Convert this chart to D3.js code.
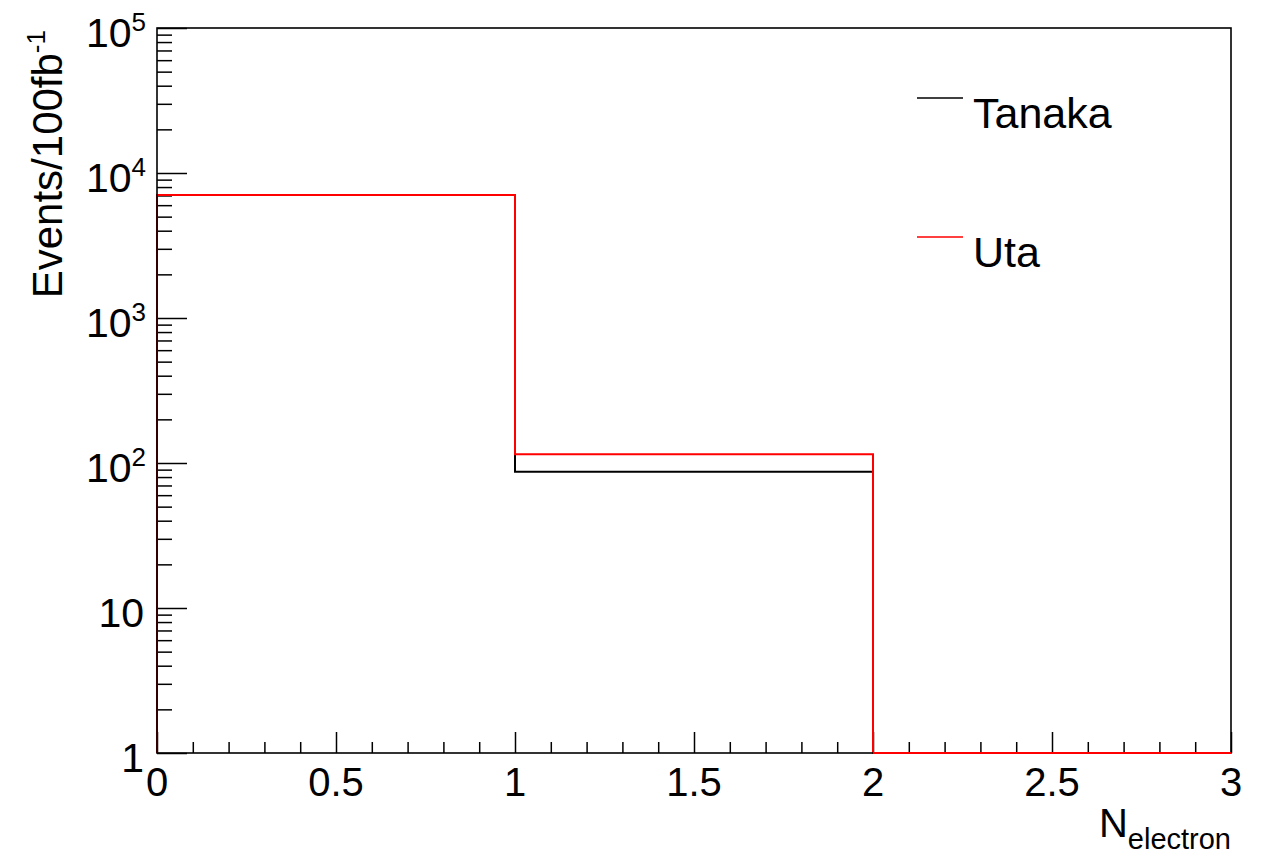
<!DOCTYPE html>
<html lang="en">
<head>
    <meta charset="UTF-8">
    <title>N electron</title>
    <script src="https://d3js.org/d3.v7.min.js"></script>
    <style>
        body { margin: 0; background: #fff; }
        svg { display: block; font-family: "Liberation Sans", Arial, sans-serif; }
    </style>
</head>
<body>
<div id="chart"></div>
<script>
    // bins: [0,1), [1,2), [2,3)
    const binEdges = [0, 1, 2, 3];
    const tanaka = [7050, 87, 0];
    const uta = [7050, 115, 0];
    const seriesNames = ["Tanaka", "Uta"];
    const seriesColors = ["#000000", "#ff0000"];
    const xMajor = [0, 0.5, 1, 1.5, 2, 2.5, 3];
    const xMajorLabels = ["0", "0.5", "1", "1.5", "2", "2.5", "3"];
    const yDecades = [1, 10, 100, 1000, 10000, 100000];

    const W = 1271, H = 858;
    const margin = { top: 28, right: 40, bottom: 105, left: 157 };
    const width = W - margin.left - margin.right;
    const height = H - margin.top - margin.bottom;

    const svg = d3.select("#chart").append("svg")
        .attr("width", W)
        .attr("height", H);

    const g = svg.append("g")
        .attr("transform", `translate(${margin.left},${margin.top})`);

    const x = d3.scaleLinear().domain([0, 3]).range([0, width]);
    const y = d3.scaleLog().domain([1, 1e5]).range([height, 0]).clamp(true);
    const yMin = 1;

    // minor ticks
    const xMinor = d3.range(0, 3.0001, 0.1).filter(v => Math.abs(v * 2 - Math.round(v * 2)) > 1e-6);
    const yMinor = [];
    yDecades.slice(0, -1).forEach(d => { for (let k = 2; k <= 9; k++) yMinor.push(d * k); });

    // x axis ticks (inside the frame)
    g.append("g")
        .attr("transform", `translate(0,${height})`)
        .call(d3.axisBottom(x).tickValues(xMajor).tickSize(-21).tickSizeOuter(0).tickFormat(""))
        .call(a => a.select(".domain").remove())
        .selectAll("line").attr("stroke", "#000").attr("stroke-width", 1.5);
    g.append("g")
        .attr("transform", `translate(0,${height})`)
        .call(d3.axisBottom(x).tickValues(xMinor).tickSize(-11).tickSizeOuter(0).tickFormat(""))
        .call(a => a.select(".domain").remove())
        .selectAll("line").attr("stroke", "#000").attr("stroke-width", 1.5);

    // y axis ticks
    g.append("g")
        .call(d3.axisLeft(y).tickValues(yDecades).tickSize(-30).tickSizeOuter(0).tickFormat(""))
        .call(a => a.select(".domain").remove())
        .selectAll("line").attr("stroke", "#000").attr("stroke-width", 1.5);
    g.append("g")
        .call(d3.axisLeft(y).tickValues(yMinor).tickSize(-15).tickSizeOuter(0).tickFormat(""))
        .call(a => a.select(".domain").remove())
        .selectAll("line").attr("stroke", "#000").attr("stroke-width", 1.5);

    // x tick labels
    g.selectAll(".xlab")
        .data(xMajor)
        .enter().append("text")
        .attr("class", "xlab")
        .attr("x", d => x(d))
        .attr("y", height + 43)
        .attr("text-anchor", "middle")
        .style("font-size", "40px")
        .text((d, i) => xMajorLabels[i]);

    // y tick labels
    yDecades.forEach(d => {
        const p = Math.round(Math.log10(d));
        const t = g.append("text")
            .attr("x", p < 2 ? -13 : -11)
            .attr("y", y(d) + 19)
            .attr("text-anchor", "end")
            .style("font-size", "41px");
        if (p === 0) t.text("1");
        else if (p === 1) t.text("10");
        else {
            t.append("tspan").text("10");
            t.append("tspan").attr("dy", -16).style("font-size", "26px").text(p);
        }
    });

    // histograms
    function stepPoints(vals) {
        const pts = [[binEdges[0], yMin]];
        vals.forEach((v, i) => pts.push([binEdges[i], Math.max(v, yMin)]));
        pts.push([binEdges[binEdges.length - 1], Math.max(vals[vals.length - 1], yMin)]);
        pts.push([binEdges[binEdges.length - 1], yMin]);
        return pts;
    }
    const line = d3.line()
        .x(d => x(d[0]))
        .y(d => y(d[1]))
        .curve(d3.curveStepAfter);

    [tanaka, uta].forEach((vals, i) => {
        g.append("path")
            .datum(stepPoints(vals))
            .attr("fill", "none")
            .attr("stroke", seriesColors[i])
            .attr("stroke-width", 2)
            .attr("d", line);
    });

    // frame
    g.append("rect")
        .attr("width", width)
        .attr("height", height)
        .attr("fill", "none")
        .attr("stroke", "#000")
        .attr("stroke-width", 1.6);
    // bottom axis line drawn in red by the last bin
    g.append("path")
        .datum([[2, yMin], [3, yMin]])
        .attr("stroke", seriesColors[1])
        .attr("stroke-width", 2)
        .attr("d", d3.line().x(d => x(d[0])).y(d => y(d[1])));

    // axis titles
    const yt = svg.append("text")
        .attr("transform", `translate(62,${margin.top + 2}) rotate(-90)`)
        .attr("text-anchor", "end")
        .style("font-size", "42px");
    yt.append("tspan").text("Events/100fb");
    yt.append("tspan").attr("dy", -17).style("font-size", "26px").text("-1");

    const xt = svg.append("text")
        .attr("x", margin.left + width)
        .attr("y", 837)
        .attr("text-anchor", "end")
        .style("font-size", "40px");
    xt.append("tspan").text("N");
    xt.append("tspan").attr("dy", 12).style("font-size", "29px").text("electron");

    // legend
    const legend = svg.append("g");
    const legY = [98, 237];
    seriesNames.forEach((name, i) => {
        legend.append("line")
            .attr("x1", 917).attr("x2", 963)
            .attr("y1", legY[i]).attr("y2", legY[i])
            .attr("stroke", seriesColors[i])
            .attr("stroke-width", 1.5);
        legend.append("text")
            .attr("x", 973)
            .attr("y", legY[i] + 30)
            .style("font-size", "43px")
            .text(name);
    });
</script>
</body>
</html>
